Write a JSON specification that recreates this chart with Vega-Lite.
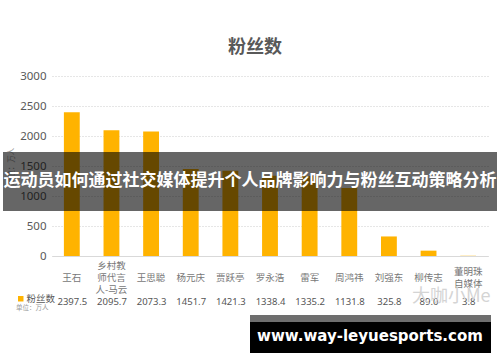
{
  "$schema": "https://vega.github.io/schema/vega-lite/v6.json",
  "width": 436,
  "height": 180,
  "autosize": "none",
  "padding": {"left": 52, "top": 76, "right": 12, "bottom": 106},
  "background": "white",
  "title": {
    "text": "粉丝数",
    "fontSize": 18,
    "font": "Noto Sans CJK SC",
    "fontWeight": "bold",
    "color": "#595959",
    "anchor": "middle",
    "frame": "group",
    "dx": -15,
    "offset": 13
  },
  "config": {
    "view": {"stroke": null},
    "font": "Noto Sans CJK SC"
  },
  "data": {
    "values": [
      {"name": "王石", "fans": 2397.5},
      {"name": "乡村教师代言人-马云", "fans": 2095.7},
      {"name": "王思聪", "fans": 2073.3},
      {"name": "杨元庆", "fans": 1451.7},
      {"name": "贾跃亭", "fans": 1421.3},
      {"name": "罗永浩", "fans": 1338.4},
      {"name": "雷军", "fans": 1335.2},
      {"name": "周鸿祎", "fans": 1131.8},
      {"name": "刘强东", "fans": 325.8},
      {"name": "柳传志", "fans": 89.0},
      {"name": "董明珠自媒体", "fans": 3.8}
    ]
  },
  "resolve": {"scale": {"x": "independent"}, "axis": {"x": "independent"}},
  "layer": [
    {
      "mark": {"type": "bar", "color": "#FFB300"},
      "encoding": {
        "x": {
          "field": "name",
          "type": "nominal",
          "sort": null,
          "scale": {"paddingInner": 0.6, "paddingOuter": 0.3},
          "axis": {
            "orient": "bottom",
            "title": null,
            "labelAngle": 0,
            "labelExpr": "datum.label == '乡村教师代言人-马云' ? ['乡村教', '师代言', '人-马云'] : datum.label == '董明珠自媒体' ? ['董明珠', '自媒体'] : datum.label",
            "labelBaseline": "middle",
            "labelLineHeight": 12,
            "labelFontSize": 9.5,
            "labelColor": "#777777",
            "labelPadding": {
              "condition": [
                {"test": "datum.value == '乡村教师代言人-马云'", "value": 9},
                {"test": "datum.value == '董明珠自媒体'", "value": 15}
              ],
              "value": 21
            },
            "ticks": false,
            "domainColor": "#d9d9d9",
            "domainWidth": 1,
            "grid": false
          }
        },
        "y": {
          "field": "fans",
          "type": "quantitative",
          "scale": {"domain": [0, 3000]},
          "axis": {
            "values": [0, 500, 1000, 1500, 2000, 2500, 3000],
            "format": "d",
            "title": "单位：万人",
            "titleFontSize": 7.5,
            "titleFontWeight": "normal",
            "titleColor": "#999999",
            "titlePadding": 4,
            "labelFont": "Noto Sans",
            "labelFontSize": 11.5,
            "labelColor": "#595959",
            "labelPadding": 6,
            "ticks": false,
            "domain": false,
            "gridColor": "#cccccc",
            "gridDash": [1, 2],
            "gridWidth": 1
          }
        },
        "color": {
          "datum": "粉丝数",
          "scale": {"range": ["#FFB300"]},
          "legend": {
            "orient": "none",
            "legendX": -36,
            "legendY": 218,
            "title": "单位：万人",
            "titleOrient": "bottom",
            "titleFontSize": 6.5,
            "titleFontWeight": "normal",
            "titleColor": "#999999",
            "titlePadding": 2,
            "symbolType": "square",
            "symbolSize": 30,
            "symbolOffset": 0,
            "labelOffset": 1,
            "labelFontSize": 9.5,
            "labelColor": "#595959"
          }
        }
      }
    },
    {
      "mark": {"type": "point", "opacity": 0},
      "encoding": {
        "x": {
          "field": "fans",
          "type": "ordinal",
          "sort": null,
          "scale": {"paddingInner": 0.6, "paddingOuter": 0.3},
          "axis": {
            "orient": "bottom",
            "title": null,
            "labelAngle": 0,
            "formatType": "number",
            "format": ".1f",
            "labelBaseline": "middle",
            "labelFont": "Noto Sans",
            "labelFontSize": 9.5,
            "labelColor": "#555555",
            "labelPadding": 45,
            "ticks": false,
            "domain": false,
            "grid": false
          }
        }
      }
    },
    {
      "data": {"values": [{}]},
      "mark": {"type": "text", "text": "大咖小Me", "x": 360, "y": 221, "align": "left", "baseline": "middle", "fontSize": 18, "color": "#d4d4d4", "font": "Noto Sans CJK SC"},
      "encoding": {}
    },
    {
      "data": {"values": [{}]},
      "mark": {"type": "rect", "x": -49, "x2": 445, "y": 76, "y2": 135, "color": "#000000", "opacity": 0.6},
      "encoding": {}
    },
    {
      "data": {"values": [{}]},
      "mark": {"type": "text", "text": "运动员如何通过社交媒体提升个人品牌影响力与粉丝互动策略分析", "x": 198, "y": 105, "align": "center", "baseline": "middle", "fontSize": 17, "fontWeight": "bold", "color": "#ffffff", "font": "Noto Sans CJK SC"},
      "encoding": {}
    },
    {
      "data": {"values": [{}]},
      "mark": {"type": "rect", "x": 198, "x2": 439, "y": 239, "y2": 246, "color": "#6e6e6e"},
      "encoding": {}
    },
    {
      "data": {"values": [{}]},
      "mark": {"type": "rect", "x": 198, "x2": 439, "y": 246, "y2": 277, "color": "#000000"},
      "encoding": {}
    },
    {
      "data": {"values": [{}]},
      "mark": {"type": "text", "text": "www.way-leyuesports.com", "x": 318, "y": 260, "align": "center", "baseline": "middle", "fontSize": 15, "fontWeight": "bold", "color": "#ffffff", "font": "DejaVu Sans"},
      "encoding": {}
    }
  ]
}
